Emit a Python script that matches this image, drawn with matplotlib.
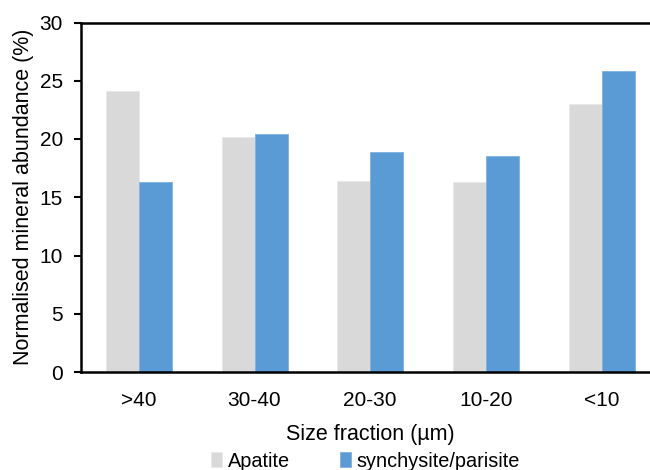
import matplotlib
matplotlib.use("Agg")
import matplotlib.pyplot as plt
import numpy as np

plt.rcParams['font.family'] = ['Liberation Sans', 'DejaVu Sans']

categories = [">40", "30-40", "20-30", "10-20", "<10"]
apatite = [24.1, 20.2, 16.4, 16.3, 23.0]
synchysite = [16.3, 20.4, 18.9, 18.5, 25.8]
series_names = ["Apatite", "synchysite/parisite"]
yticks = [0, 5, 10, 15, 20, 25, 30]

fig = plt.figure(figsize=(6.5, 4.7), dpi=100)
ax = fig.add_axes([81/650, 1 - 372/470, 578.5/650, 349.5/470])

x = np.arange(len(categories))
w = 0.285
ax.bar(x - w/2, apatite, w, color="#d9d9d9", edgecolor="#e8e8e8", linewidth=0.6,
       label=series_names[0])
ax.bar(x + w/2, synchysite, w, color="#5b9bd5", edgecolor="#7fb1df", linewidth=0.6,
       label=series_names[1])

ax.set_xlim(-0.5, len(categories) - 0.5)
ax.set_ylim(0, 30)
ax.set_yticks(yticks)
ax.set_xticks(x)
ax.set_xticklabels(categories)
ax.tick_params(axis='y', length=5, width=1.5, pad=8, labelsize=15)
ax.tick_params(axis='x', length=0, pad=14, labelsize=15)

for s in ['left', 'bottom', 'top']:
    ax.spines[s].set_linewidth(1.8)
ax.spines['right'].set_visible(False)

ax.set_ylabel("Normalised mineral abundance (%)", fontsize=15.5, labelpad=4)
ax.set_xlabel("Size fraction (µm)", fontsize=15.5, labelpad=10)

leg = ax.legend(loc='center', bbox_to_anchor=(0.492, -0.255),
                ncol=2, frameon=False, fontsize=14.3, handlelength=0.55,
                handleheight=0.75, handletextpad=0.3, columnspacing=2.5,
                borderaxespad=0, borderpad=0)

fig.savefig("out.png", dpi=100)
